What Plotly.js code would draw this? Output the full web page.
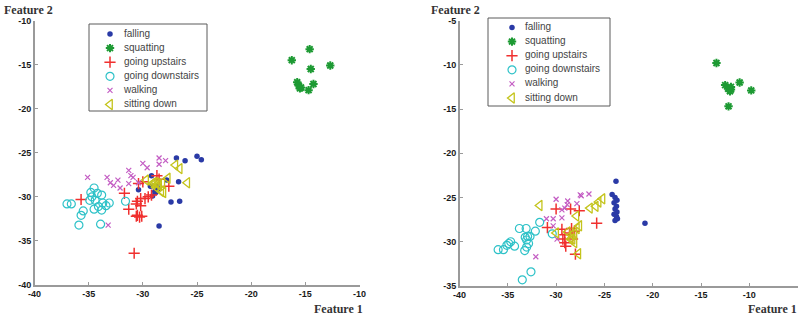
<!DOCTYPE html>
<html>
<head>
<meta charset="utf-8">
<script src="https://cdn.plot.ly/plotly-3.0.1.min.js"></script>
<style>html,body{margin:0;padding:0;background:#fff;}#chart{width:800px;height:320px;}</style>
</head>
<body>
<div id="chart"></div>
<script>
// ---------- categories ----------
const categories = ["falling", "squatting", "going upstairs", "going downstairs", "walking", "sitting down"];

// ---------- left panel (a) ----------
const fallingXA = [-26.9,-26.1,-25.0,-24.6,-29.2,-27.8,-26.7,-28.7,-28.9,-29.1,-27.4,-26.6,-28.5,-30.4,-29.3,-28.6,-28.8];
const fallingYA = [-25.6,-25.9,-25.4,-25.8,-27.6,-28.1,-28.3,-28.8,-29.4,-29.9,-30.6,-30.5,-33.3,-29.2,-28.8,-29.1,-29.5];
const squatXA = [-16.25,-14.6,-12.7,-14.5,-15.75,-15.6,-15.5,-14.25,-14.7,-15.4];
const squatYA = [-14.5,-13.25,-15.1,-15.5,-17.0,-17.4,-17.7,-17.2,-17.9,-17.6];
const upXA = [-35.7,-31.7,-31.3,-30.4,-30.0,-28.7,-30.5,-30.2,-29.8,-29.5,-29.2,-30.6,-30.2,-30.5,-30.3,-30.1,-30.6,-30.8,-27.6,-28.5];
const upYA = [-30.3,-29.6,-31.4,-28.5,-28.3,-27.6,-30.5,-30.2,-30.2,-30.0,-29.8,-30.8,-31.0,-32.1,-32.3,-32.2,-32.2,-36.4,-28.8,-28.0];
const downXA = [-37.0,-36.6,-35.9,-35.7,-35.5,-34.5,-34.8,-34.7,-34.2,-33.8,-34.9,-34.4,-33.7,-33.1,-33.4,-34.5,-33.8,-34.1,-33.9,-31.6];
const downYA = [-30.8,-30.8,-33.2,-32.1,-31.6,-29.0,-29.5,-30.0,-29.6,-29.8,-30.4,-30.4,-30.7,-30.7,-31.0,-31.4,-31.5,-31.1,-33.1,-30.5];
const walkXA = [-35.1,-33.3,-33.0,-32.7,-32.3,-32.1,-31.3,-31.1,-30.9,-31.3,-30.0,-29.6,-28.5,-28.5,-27.9,-33.2,-30.4];
const walkYA = [-27.8,-27.8,-28.4,-28.7,-28.1,-29.0,-27.0,-27.6,-27.8,-28.5,-26.2,-26.7,-25.6,-26.3,-25.9,-33.2,-28.4];
const sitXA = [-29.7,-29.0,-28.6,-28.2,-27.7,-28.5,-28.8,-28.3,-28.1,-27.0,-26.6,-25.9,-29.1,-28.8];
const sitYA = [-28.1,-28.4,-28.5,-28.4,-27.9,-28.7,-28.9,-29.4,-29.5,-26.4,-26.8,-28.4,-28.5,-28.4];

// ---------- right panel (b) ----------
const fallingXB = [-23.8,-24.2,-23.9,-23.7,-24.0,-23.75,-23.9,-23.7,-24.0,-23.75,-23.9,-23.65,-20.8];
const fallingYB = [-23.15,-24.65,-25.0,-25.3,-25.6,-26.0,-26.3,-26.65,-26.9,-27.15,-27.6,-27.4,-27.9];
const squatXB = [-13.4,-12.5,-11.9,-11.9,-12.0,-11.0,-9.8,-12.15,-12.2];
const squatYB = [-9.8,-12.3,-12.5,-12.8,-13.0,-12.0,-12.9,-14.7,-12.7];
const upXB = [-30.0,-28.5,-27.6,-30.9,-29.4,-29.1,-29.1,-28.6,-28.4,-28.3,-28.0,-25.8,-29.0,-29.3,-28.1];
const upYB = [-26.3,-26.3,-26.5,-28.4,-28.6,-29.2,-30.1,-29.0,-28.5,-29.7,-31.4,-27.9,-30.5,-29.7,-28.8];
const downXB = [-36.0,-35.45,-35.1,-34.7,-34.3,-34.9,-33.8,-33.1,-33.2,-32.95,-32.7,-33.05,-32.85,-33.25,-33.05,-32.15,-31.7,-30.4,-33.5,-32.6];
const downYB = [-30.9,-30.9,-30.4,-30.0,-30.5,-30.2,-28.5,-28.5,-29.5,-29.4,-29.4,-29.8,-30.2,-31.0,-30.6,-28.8,-27.8,-29.1,-34.3,-33.4];
const walkXB = [-30.0,-29.4,-29.1,-29.4,-30.3,-30.3,-31.0,-29.9,-28.8,-28.85,-27.4,-27.5,-26.6,-27.85,-32.1];
const walkYB = [-25.2,-26.4,-26.2,-27.3,-27.4,-28.2,-27.4,-29.7,-25.4,-25.8,-24.8,-24.7,-24.6,-25.7,-31.7];
const sitXB = [-31.7,-30.0,-28.8,-28.4,-28.3,-28.1,-27.85,-27.6,-27.9,-27.7,-26.5,-25.9,-25.6,-25.2,-28.1,-28.5];
const sitYB = [-25.9,-29.0,-28.9,-29.2,-29.7,-30.1,-28.5,-28.2,-27.1,-31.35,-26.2,-26.0,-25.5,-25.15,-29.0,-29.7];

// ---------- axis tick values ----------
const xTicksA = [-40,-35,-30,-25,-20,-15,-10];
const yTicksA = [-40,-35,-30,-25,-20,-15,-10];
const xTicksB = [-40,-35,-30,-25,-20,-15,-10,-5];
const yTicksB = [-35,-30,-25,-20,-15,-10,-5];
const label = arr => arr.map(v => String(v));

// ---------- styles ----------
const markerStyles = [
  {symbol: "circle", size: 5.5, color: "#2a3aa6", line: {width: 0}},
  {symbol: "asterisk-open", size: 7, color: "#1d9a33", line: {width: 2, color: "#1d9a33"}},
  {symbol: "cross-thin-open", size: 8, color: "#f0302f", line: {width: 1.5, color: "#f0302f"}},
  {symbol: "circle-open", size: 8, color: "#2ec2c8", line: {width: 1.2, color: "#2ec2c8"}},
  {symbol: "x-thin-open", size: 5, color: "#c45ec4", line: {width: 1.2, color: "#c45ec4"}},
  {symbol: "triangle-left-open", size: 9, color: "#c4c41c", line: {width: 1.3, color: "#c4c41c"}}
];

const seriesA = [[fallingXA,fallingYA],[squatXA,squatYA],[upXA,upYA],[downXA,downYA],[walkXA,walkYA],[sitXA,sitYA]];
const seriesB = [[fallingXB,fallingYB],[squatXB,squatYB],[upXB,upYB],[downXB,downYB],[walkXB,walkYB],[sitXB,sitYB]];

const traces = [];
categories.forEach((c, i) => {
  traces.push({type: "scatter", mode: "markers", name: c, x: seriesA[i][0], y: seriesA[i][1],
    xaxis: "x", yaxis: "y", marker: markerStyles[i], showlegend: false, hoverinfo: "skip"});
});
categories.forEach((c, i) => {
  traces.push({type: "scatter", mode: "markers", name: c, x: seriesB[i][0], y: seriesB[i][1],
    xaxis: "x2", yaxis: "y2", marker: markerStyles[i], showlegend: false, hoverinfo: "skip"});
});

// custom legends (pixel-like coordinate axes inside each legend box)
function legendTraces(xa, ya, markerX, textX, firstRow, step) {
  const ys = categories.map((c, i) => firstRow + step * i);
  categories.forEach((c, i) => {
    traces.push({type: "scatter", mode: "markers", x: [markerX], y: [ys[i]], xaxis: xa, yaxis: ya,
      marker: markerStyles[i], showlegend: false, hoverinfo: "skip"});
  });
  traces.push({type: "scatter", mode: "text", x: categories.map(() => textX), y: ys, text: categories,
    textposition: "middle right", xaxis: xa, yaxis: ya, showlegend: false, hoverinfo: "skip",
    textfont: {family: "Liberation Sans, Arial, sans-serif", size: 10, color: "#444"}});
}
legendTraces("x3", "y3", 21, 35, 10, 14.1);
legendTraces("x4", "y4", 24, 37, 9.5, 14.1);

const tickFont = {family: "Liberation Sans, Arial, sans-serif", size: 9, color: "#1a1a1a", weight: "bold"};
const axisBase = {showline: true, linecolor: "#9a9a9a", linewidth: 1.5, ticks: "inside", ticklen: 3,
  tickcolor: "#9a9a9a", tickwidth: 1, showgrid: false, zeroline: false, tickfont: tickFont, fixedrange: true};
const hidden = {visible: false, showgrid: false, zeroline: false, fixedrange: true};

const W = 800, plotTop = 10, plotBottom = 287, H = plotBottom - plotTop;
const px = v => v / W;
const py = v => (plotBottom - v) / H;

const layout = {
  width: 800, height: 320,
  margin: {l: 0, r: 0, t: plotTop, b: 320 - plotBottom},
  paper_bgcolor: "#ffffff", plot_bgcolor: "rgba(0,0,0,0)",
  hovermode: false, showlegend: false,
  xaxis: Object.assign({}, axisBase, {domain: [px(34.5), px(359.5)], range: [-40, -10], tickvals: xTicksA, ticktext: label(xTicksA), anchor: "y"}),
  yaxis: Object.assign({}, axisBase, {domain: [py(285), py(20.5)], range: [-40, -10], tickvals: yTicksA, ticktext: label(yTicksA), anchor: "x"}),
  xaxis2: Object.assign({}, axisBase, {domain: [px(459.5), px(797.6)], range: [-40, -5], tickvals: xTicksB, ticktext: label(xTicksB), anchor: "y2"}),
  yaxis2: Object.assign({}, axisBase, {domain: [py(286), py(20.5)], range: [-35, -5], tickvals: yTicksB, ticktext: label(yTicksB), anchor: "x2"}),
  xaxis3: Object.assign({}, hidden, {domain: [px(89), px(207)], range: [0, 118], anchor: "y3"}),
  yaxis3: Object.assign({}, hidden, {domain: [py(111), py(24)], range: [87, 0], anchor: "x3"}),
  xaxis4: Object.assign({}, hidden, {domain: [px(488), px(610)], range: [0, 122], anchor: "y4"}),
  yaxis4: Object.assign({}, hidden, {domain: [py(106), py(18)], range: [88, 0], anchor: "x4"}),
  shapes: [
    {type: "rect", xref: "paper", yref: "paper", x0: px(89), x1: px(207), y0: py(111), y1: py(24),
      line: {color: "#5a5a5a", width: 1}, fillcolor: "rgba(255,255,255,0)", layer: "above"},
    {type: "rect", xref: "paper", yref: "paper", x0: px(488), x1: px(610), y0: py(106), y1: py(18),
      line: {color: "#5a5a5a", width: 1}, fillcolor: "rgba(255,255,255,0)", layer: "above"}
  ],
  annotations: [
    {text: "Feature 2", xref: "paper", yref: "paper", x: px(28), y: py(10), xanchor: "center", yanchor: "middle",
      showarrow: false, font: {family: "Liberation Serif, Times New Roman, serif", size: 12, color: "#333", weight: "bold"}},
    {text: "Feature 1", xref: "paper", yref: "paper", x: px(338), y: py(309), xanchor: "center", yanchor: "middle",
      showarrow: false, font: {family: "Liberation Serif, Times New Roman, serif", size: 12, color: "#333", weight: "bold"}},
    {text: "Feature 2", xref: "paper", yref: "paper", x: px(455), y: py(10), xanchor: "center", yanchor: "middle",
      showarrow: false, font: {family: "Liberation Serif, Times New Roman, serif", size: 12, color: "#333", weight: "bold"}},
    {text: "Feature 1", xref: "paper", yref: "paper", x: px(772), y: py(309), xanchor: "center", yanchor: "middle",
      showarrow: false, font: {family: "Liberation Serif, Times New Roman, serif", size: 12, color: "#333", weight: "bold"}}
  ]
};

Plotly.newPlot("chart", traces, layout, {displayModeBar: false, staticPlot: true});
</script>
</body>
</html>
